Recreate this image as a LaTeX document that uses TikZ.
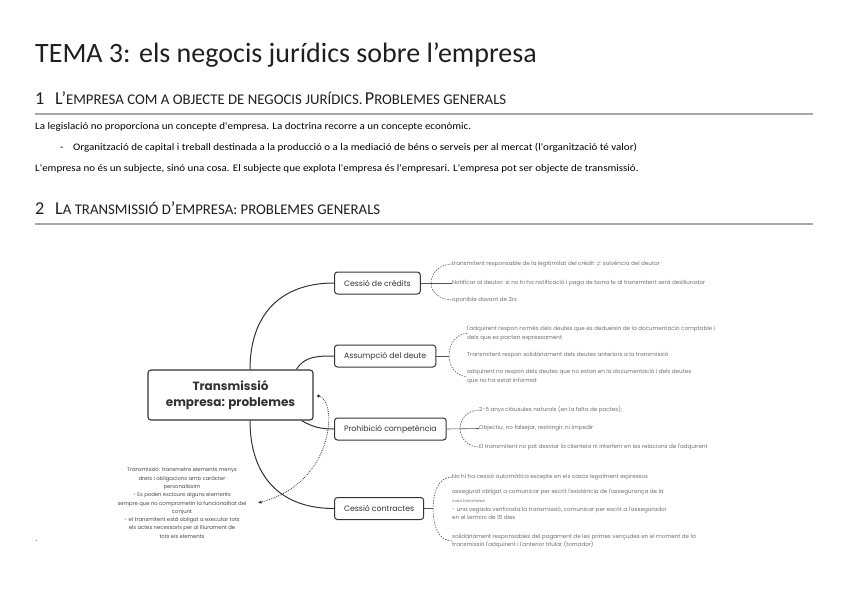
\documentclass[tikz,border=0pt]{standalone}
\usepackage{fontspec}
\setmainfont{Carlito}
\newfontfamily\bodyfont[FakeStretch=1.1]{Carlito}
\newfontfamily\mapfont{Poppins}
\usepackage{xcolor}
\usetikzlibrary{arrows.meta, positioning}

\definecolor{inkgray}{HTML}{333333}
\definecolor{leafgray}{HTML}{6E6E6E}
\definecolor{rulegray}{HTML}{A8A8A8}

% fake small caps for the headings
\newcommand\capbig[1]{{\fontsize{18.2}{20}\selectfont #1}}
\newcommand\capsmall[1]{{\fontsize{14.8}{16}\selectfont #1}}

\begin{document}
\begin{tikzpicture}[
  x=1pt, y=-1pt,
  % text styles
  title/.style={anchor=base west, inner sep=0pt, font=\fontsize{28}{32}\selectfont, text=black!88},
  head/.style={anchor=base west, inner sep=0pt, text=black!88},
  para/.style={anchor=base west, inner sep=0pt, font=\bodyfont\fontsize{10}{12}\selectfont},
  rulebar/.style={draw=rulegray, line width=1.4pt},
  % mind map styles
  root/.style={draw=inkgray, line width=1.1pt, rounded corners=3pt, minimum width=165pt,
               minimum height=50pt, align=center, text=inkgray,
               font=\mapfont\bfseries\fontsize{12}{16}\selectfont},
  branch/.style={draw=inkgray, line width=1pt, rounded corners=3pt, anchor=west,
                 minimum height=22pt, inner xsep=9.5pt, text=inkgray,
                 font=\mapfont\fontsize{7.8}{9}\selectfont},
  leaf/.style={anchor=west, inner sep=0pt, align=left, text=leafgray,
               font=\mapfont\fontsize{5.6}{8.6}\selectfont},
  note/.style={inner sep=0pt, align=center, text=inkgray!90,
               font=\mapfont\fontsize{5.3}{8.3}\selectfont},
  trunk/.style={draw=inkgray, line width=1pt},
  twig/.style={draw=inkgray!85, line width=0.6pt},
  brace/.style={twig, dash pattern=on 1.5pt off 1.2pt},
  relation/.style={draw=inkgray, line width=0.8pt, dash pattern=on 0.8pt off 1.1pt,
                   -{Latex[length=4pt,width=3.4pt]}},
]
\useasboundingbox (0,0) rectangle (848,599);

% ---- TITLE ----
\node[title] (tema) at (35,63) {TEMA 3: els negocis jurídics sobre l'empresa};

% ---- SECTION 1 ----
\node[head] (h1num) at (35,105) {\capbig{1}};
\node[head] (h1) at (55,105)
  {\capbig{L'}\capsmall{EMPRESA COM A OBJECTE DE NEGOCIS JURÍDICS.} \capbig{P}\capsmall{ROBLEMES GENERALS}};
\draw[rulebar] (35,114) -- (813,114);

\node[para] (p1) at (35,129) {La legislació no proporciona un concepte d'empresa. La doctrina recorre a un concepte econòmic.};
\node[para] (dash) at (60,150) {-};
\node[para] (p2) at (73,150) {Organització de capital i treball destinada a la producció o a la mediació de béns o serveis per al mercat (l'organització té valor)};
\node[para] (p3) at (35,171) {L'empresa no és un subjecte, sinó una cosa. El subjecte que explota l'empresa és l'empresari. L'empresa pot ser objecte de transmissió.};

% ---- SECTION 2 ----
\node[head] (h2num) at (35,214) {\capbig{2}};
\node[head] (h2) at (55,214)
  {\capbig{L}\capsmall{A TRANSMISSIÓ D}\capbig{'}\capsmall{EMPRESA: PROBLEMES GENERALS}};
\draw[rulebar] (35,224) -- (813,224);

% ---- MIND MAP ----
\node[root] (root) at (230.5,395) {Transmissió\\empresa: problemes};

\node[branch] (cred)  at (334,283)   {Cessió de crèdits};
\node[branch] (deute) at (334,356)   {Assumpció del deute};
\node[branch] (comp)  at (334,429)   {Prohibició competència};
\node[branch] (contr) at (334,508.5) {Cessió contractes};

\draw[trunk] ([xshift=19.5pt]root.north) to[out=90,in=180,looseness=1.15] (cred.west);
\draw[trunk] ([xshift=66pt]root.north) to[out=60,in=180] (deute.west);
\draw[trunk] ([xshift=71pt]root.south) to[out=-30,in=180] (comp.west);
\draw[trunk] ([xshift=19.5pt]root.south) to[out=-90,in=180,looseness=1.15] (contr.west);

% Cessio de credits
\node[leaf] (l11) at (452,264) {transmitent responsable de la legitimitat del crèdit $\neq$ solvència del deutor};
\node[leaf] (l12) at (452,283) {Notificar al deutor: si no hi ha notificació i paga de bona fe al transmitent serà deslliurador};
\node[leaf] (l13) at (452,300) {oponible davant de 3rs};
\coordinate (k1) at (431,283);
\draw[twig] (cred.east) -- (l12.west);
\draw[brace] (l11.west) to[out=180,in=90] (k1) to[out=-90,in=180] (l13.west);

% Assumpcio del deute
\node[leaf] (l21) at (467,333.5) {l'adquirent respon només dels deutes que es dedueixin de la documentació comptable i\\dels que es pacten expressament};
\node[leaf] (l22) at (467,355) {Transmitent respon solidàriament dels deutes anteriors a la transmissió};
\node[leaf] (l23) at (467,376.5) {adquirent no respon dels deutes que no estan en la documentació i dels deutes\\que no ha estat informat};
\coordinate (k2) at (449,356);
\draw[twig] (deute.east) -- (k2);
\draw[brace] (l21.west) to[out=180,in=90] (k2) to[out=-90,in=180] (l23.west);

% Prohibicio competencia
\node[leaf] (l31) at (479,410) {2-5 anys clàusules naturals (en la falta de pactes);};
\node[leaf] (l32) at (479,428.5) {Objectiu: no falsejar, restringir, ni impedir};
\node[leaf] (l33) at (479,447) {El transmitent no pot desviar la clientela ni interferir en les relacions de l'adquirent};
\coordinate (k3) at (460,428.5);
\draw[twig] (comp.east) -- (l32.west);
\draw[brace] (l31.west) to[out=180,in=90] (k3) to[out=-90,in=180] (l33.west);

% Cessio contractes
\node[leaf] (l41) at (452,477) {No hi ha cessió automàtica excepte en els casos legalment expressos};
\node[leaf] (l42) at (452,504.5) {assegurat obligat a comunicar per escrit l'existència de l'assegurança de la\\{\fontsize{4}{8.3}\selectfont cosa transmesa}\\- una vegada verificada la transmissió, comunicar per escrit a l'assegurador\\en el termini de 15 dies};
\node[leaf] (l43) at (452,541) {solidàriament responsables del pagament de les primes vençudes en el moment de la\\transmissió l'adquirent i l'anterior titular (tomador)};
\coordinate (k4) at (433,508.5);
\draw[twig] (contr.east) -- (k4);
\draw[brace] (l41.west) to[out=180,in=90] (k4) to[out=-90,in=180] (l43.west);

% ---- NOTE (left) ----
\node[note] (note) at (182,503) {Transmissió: transmetre elements menys\\drets i obligacions amb caràcter\\personalíssim\\- Es poden excloure alguns elements\\sempre que no comprometin la funcionalitat del\\conjunt\\- el transmitent està obligat a executar tots\\els actes necessaris per al lliurament de\\tots els elements};
\coordinate (tie) at ([xshift=5pt,yshift=-1pt]root.east);
\fill[inkgray] (tie) circle (1.6pt);
\draw[relation] (tie) .. controls (337,398) and (337,482) .. ([xshift=11pt]note.east);

% stray mark
\node[para, text=black!50] (dot) at (35,541) {.};

\end{tikzpicture}
\end{document}
